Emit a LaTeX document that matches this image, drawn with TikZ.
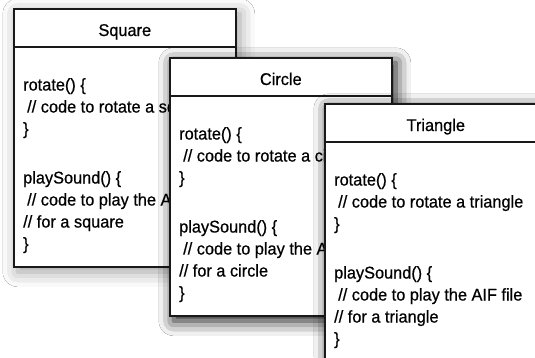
\documentclass[tikz,border=0pt]{standalone}
\usepackage{fontspec}
\setmainfont{Liberation Sans}[FakeStretch=0.96, FakeBold=0.6]
\usetikzlibrary{positioning,shadows.blur}

\begin{document}
\begin{tikzpicture}[x=1pt, y=-1pt,
    classbox/.style={draw=black!90, line width=1.6pt, fill=white, anchor=north west,
      minimum width=222pt, minimum height=258pt, inner sep=0pt,
      blur shadow={shadow xshift=4pt, shadow yshift=-5pt, shadow blur radius=15pt, shadow opacity=#1}},
    classname/.style={font=\fontsize{17}{19}\selectfont, anchor=base, inner sep=0pt},
    methods/.style={font=\fontsize{17}{22}\selectfont, align=left, anchor=north west, inner sep=0pt},
    divider/.style={draw=black!90, line width=1.6pt},
  ]
  % page
  \clip (0,0) rectangle (535,357);
  \fill[white] (0,0) rectangle (535,357);

  % three overlapping classes, back to front
  \foreach \name/\x/\y/\what/\shade in {Square/13/8/square/40, Circle/169/57/circle/95, Triangle/324/103/triangle/95}{
    \node[classbox=\shade] (box-\what) at (\x,\y) {};
    \node[classname] (name-\what) at ([yshift=-28pt]box-\what.north) {\name};
    \draw[divider] ([yshift=-39pt]box-\what.north west) -- ([yshift=-39pt]box-\what.north east);
    \node[methods] (code-\what) at ([xshift=10pt, yshift=-70pt]box-\what.north west)
      {rotate() \{\\ \hspace*{4pt}// code to rotate a \what\\ \}\\[27pt]
       playSound() \{\\ \hspace*{4pt}// code to play the AIF file\\ // for a \what\\ \}};
  }
\end{tikzpicture}
\end{document}
